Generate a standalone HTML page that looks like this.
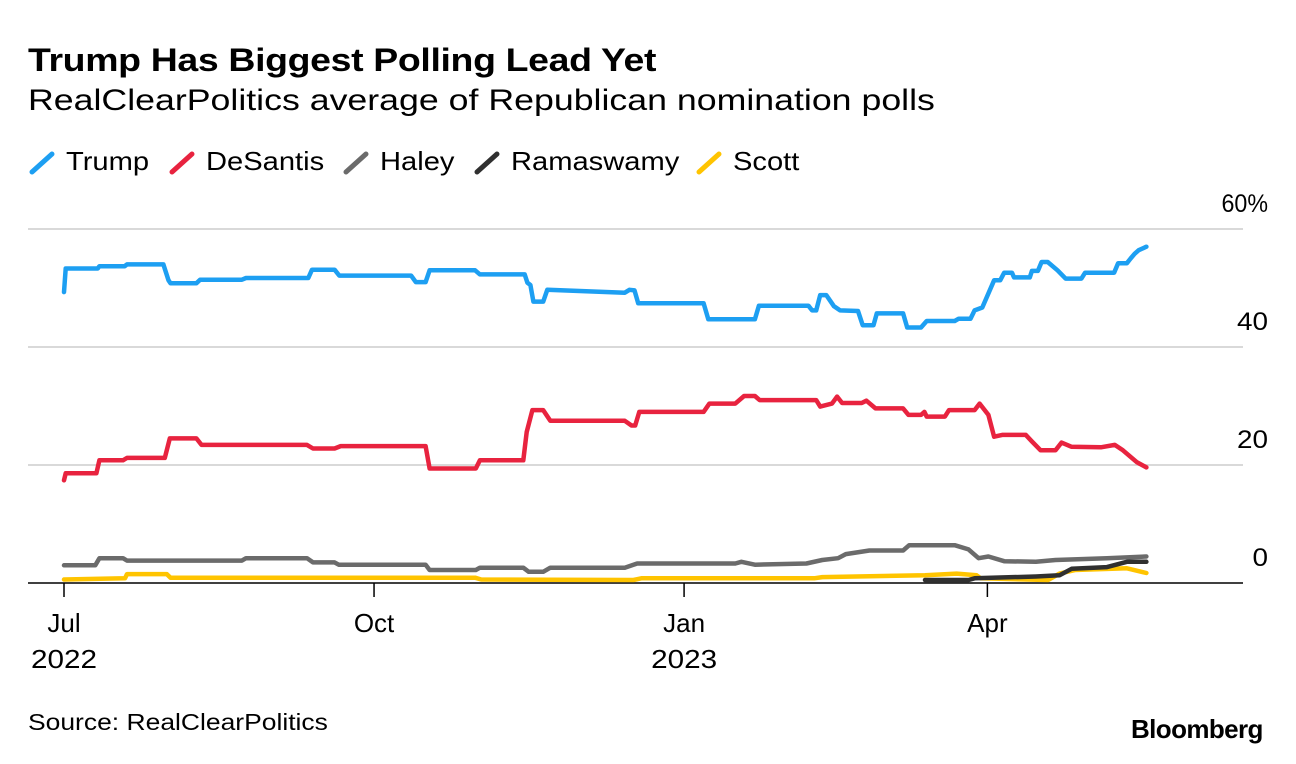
<!DOCTYPE html>
<html><head><meta charset="utf-8">
<style>
body{margin:0;background:#fff;width:1296px;height:764px;overflow:hidden;font-family:"Liberation Sans",Arial,sans-serif;color:#000}
.t{position:absolute;white-space:nowrap;transform-origin:0 0}
</style></head>
<body>
<div class="t" style="left:28px;top:42px;font-size:32px;font-weight:bold;letter-spacing:-0.3px;transform:scaleX(1.17)">Trump Has Biggest Polling Lead Yet</div>
<div class="t" style="left:28px;top:84px;font-size:30px;transform:scaleX(1.19)">RealClearPolitics average of Republican nomination polls</div>
<div id="legend" style="position:absolute;left:0;top:146px;width:1296px;height:36px;font-size:26px"></div>
<svg id="chart" width="1296" height="764" style="position:absolute;left:0;top:0;pointer-events:none"></svg>
<div class="t" style="left:28px;top:709px;font-size:23px;transform:scaleX(1.15)">Source: RealClearPolitics</div>
<div class="t" style="left:1131px;top:714px;font-size:26px;font-weight:bold;letter-spacing:-0.6px">Bloomberg</div>
<script>
// days since 2022-07-01, values in %
const trumpDays=[0,0.5,10,10.5,18,18.7,29.5,31,31.6,39.3,40.4,52.8,54,72.5,73.6,80.3,81.7,103,104.4,107.3,108.5,122,123.4,136.7,137.5,138.4,139.3,142.2,143.4,166.4,167.8,169.3,170.4,189.8,191.2,205,206.2,220.9,222,223.2,224.4,226.2,228.5,230.3,235.6,237,240.2,241.2,249,250.2,254.3,256,264.3,265.5,269,270.2,272.5,276,277.8,279,281.3,281.9,286.6,287.2,289,290.1,291.9,294.8,297.2,301.9,303,311.6,312.8,315.4,316.5,317.7,318.9,321.2];
const trumpVals=[49.3,53.3,53.3,53.7,53.7,54,54,51.3,50.8,50.8,51.4,51.4,51.7,51.7,53.1,53.1,52.1,52.1,51,51,53,53,52.3,52.3,50.9,50.5,47.7,47.7,49.7,49.2,49.7,49.6,47.4,47.4,44.7,44.7,47,47,46.2,46.2,48.8,48.8,46.9,46.2,46.1,43.7,43.7,45.7,45.7,43.3,43.3,44.4,44.4,44.8,44.8,46.2,46.7,51.3,51.3,52.6,52.6,51.8,51.8,52.9,52.9,54.4,54.4,53,51.6,51.6,52.6,52.6,54.2,54.2,55,55.8,56.4,57];
const desantisDays=[0,0.5,9.6,10.5,17.5,18.7,29.9,31.4,39.3,40.8,72.1,73.9,80.3,82.1,107.3,108.5,122.2,123.4,136.3,137.3,139,142.2,144.3,166.4,168.4,169.5,170.7,189.8,191.5,199.2,201.8,205,206.4,223.2,224.4,227.9,229.4,230.9,236.7,238.1,240.8,249,250.6,254.3,255.3,256,261.4,262.6,270.2,271.7,274.3,276,278.4,285.4,287.2,289.8,294.2,296,298.9,307.7,311.8,314.2,318.3,321.2];
const desantisVals=[17.4,18.6,18.6,20.8,20.8,21.2,21.2,24.5,24.5,23.4,23.4,22.8,22.8,23.2,23.2,19.4,19.4,20.8,20.8,25.6,29.3,29.3,27.5,27.5,26.7,26.7,29,29,30.4,30.4,31.7,31.7,31,31,29.9,30.4,31.6,30.5,30.5,30.9,29.6,29.6,28.5,28.5,29,28.2,28.2,29.3,29.3,30.4,28.5,24.8,25.1,25.1,24,22.5,22.5,23.8,23.1,23,23.4,22.5,20.5,19.6];
const haleyDays=[0,9.3,10.5,17.5,18.7,52.8,54,72.1,73.9,80.3,81.5,107.3,108.5,122.2,123.4,136.3,137.9,142.2,144.3,166.4,170.1,199.2,201,205,220.3,225,229.7,232,239,249,250.8,264.3,268.4,271.4,274.3,279,288.4,294.2,309.5,321.2];
const haleyVals=[3,3,4.2,4.2,3.8,3.8,4.2,4.2,3.5,3.5,3.1,3.1,2.2,2.2,2.6,2.6,1.9,1.9,2.6,2.6,3.3,3.3,3.6,3.1,3.3,3.9,4.2,4.9,5.5,5.5,6.4,6.4,5.7,4.2,4.5,3.7,3.6,3.9,4.2,4.5];
const ramaDays=[255.5,268.4,270.2,288.4,295.4,299,309.5,315.4,321.2];
const ramaVals=[0.5,0.5,0.8,1.1,1.3,2.4,2.7,3.6,3.6];
const scottDays=[0,18.1,18.7,30.5,31.6,122,123.8,169,171.3,222.6,225,255.5,264.9,270.8,272,292,295.4,300,315.4,321.2];
const scottVals=[0.6,0.8,1.5,1.5,0.9,0.9,0.6,0.5,0.8,0.8,1,1.3,1.6,1.3,0.8,0.5,1.6,2.2,2.5,1.7];
const yTicks=[0,20,40,60];
const yTickLabels=["0","20","40","60%"];
const xTickDays=[0,92,184,274];
const xTickLabels=["Jul","Oct","Jan","Apr"];
const xTickYears=["2022","","2023",""];
const seriesNames=["Trump","DeSantis","Haley","Ramaswamy","Scott"];
const seriesColors=["#1d9ff2","#e8233f","#6b6b6b","#303030","#ffc400"];
const legendX=[28,168,342,473,695];

const x=d=>64+d*3.37;
const y=v=>583-v*5.9;
const NS="http://www.w3.org/2000/svg";
const svg=document.getElementById('chart');
function mk(tag,attrs){const e=document.createElementNS(NS,tag);for(const k in attrs)e.setAttribute(k,attrs[k]);svg.appendChild(e);return e;}

yTicks.forEach((v,i)=>{
  if(v>0){const g=mk('line',{x1:28,x2:1243,y1:y(v),y2:y(v),stroke:'#d9d9d9','stroke-width':2});
  
  }
  const t=mk('text',{x:1268,y:y(v)-17,'text-anchor':'end','font-size':25,fill:'#000',textLength:yTickLabels[i].length*15.5,lengthAdjust:'spacingAndGlyphs'});
  t.textContent=yTickLabels[i];
  
  
});
const base=mk('line',{x1:28,x2:1243,y1:y(0),y2:y(0),stroke:'#000','stroke-width':1.5});


xTickDays.forEach((d,i)=>{
  const tk=mk('line',{x1:x(d),x2:x(d),y1:y(0),y2:y(0)+14,stroke:'#000','stroke-width':1.5});
  
  
  const t=mk('text',{x:x(d),y:632,'text-anchor':'middle','font-size':26});
  t.textContent=xTickLabels[i];
  
  
  if(xTickYears[i]){const t2=mk('text',{x:x(d),y:668,'text-anchor':'middle','font-size':26,textLength:66,lengthAdjust:'spacingAndGlyphs'});
  t2.textContent=xTickYears[i];
  
  }
});
const allDays=[trumpDays,desantisDays,haleyDays,ramaDays,scottDays];
const allVals=[trumpVals,desantisVals,haleyVals,ramaVals,scottVals];
[4,3,2,1,0].forEach(i=>{
  const pts=allDays[i].map((d,j)=>x(d).toFixed(1)+','+y(allVals[i][j]).toFixed(1)).join(' ');
  const p=mk('polyline',{points:pts,fill:'none',stroke:seriesColors[i],'stroke-width':4.5,'stroke-linejoin':'round','stroke-linecap':'round'});
  
  
});
const leg=document.getElementById('legend');
seriesNames.forEach((n,i)=>{
  const e=document.createElement('div');
  
  
  e.style.cssText='position:absolute;top:0;left:'+legendX[i]+'px;display:flex;align-items:center;white-space:nowrap';
  e.innerHTML='<svg width="32" height="28" style="margin-right:6px"><line x1="4" y1="24" x2="24" y2="6" stroke="'+seriesColors[i]+'" stroke-width="5" stroke-linecap="round"/></svg><span style="display:inline-block;transform:scaleX(1.12);transform-origin:0 50%">'+n+'</span>';
  leg.appendChild(e);
});
</script>
</body></html>
